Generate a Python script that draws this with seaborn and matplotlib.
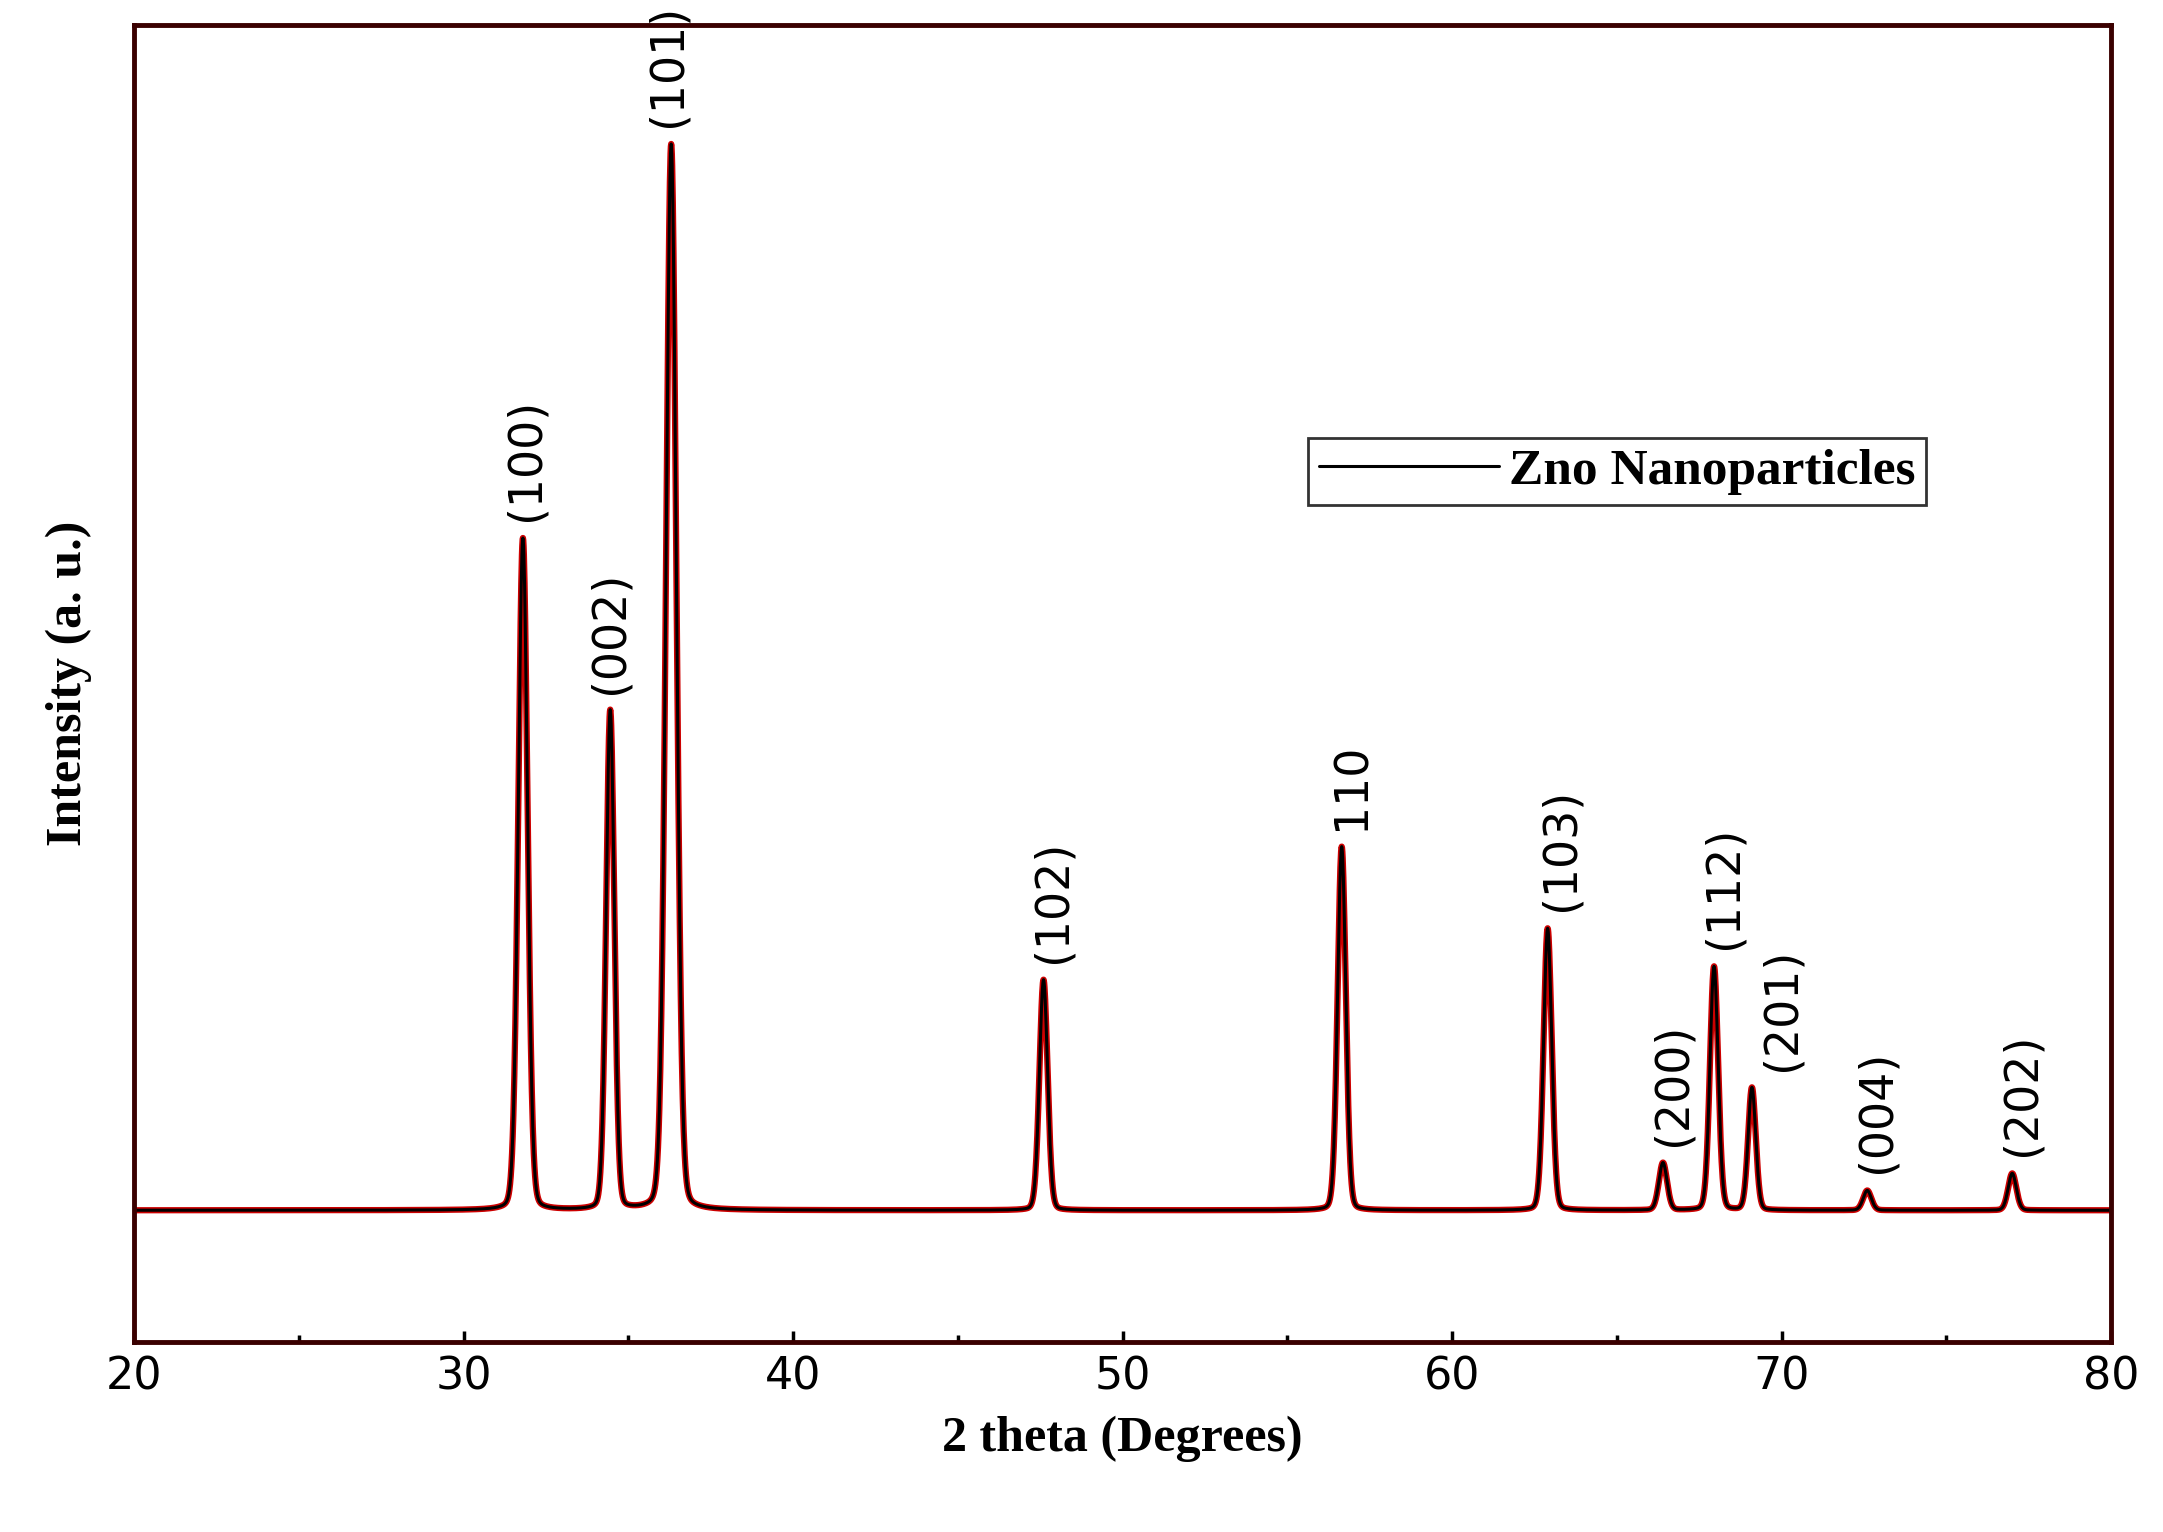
import numpy as np
import matplotlib
matplotlib.use("Agg")
import matplotlib.pyplot as plt
import seaborn as sns
from matplotlib.ticker import MultipleLocator

sns.set_style("ticks")
plt.rcParams['font.family'] = ['DejaVu Sans']
plt.rcParams['text.color'] = 'black'
plt.rcParams['xtick.color'] = 'black'
plt.rcParams['axes.labelcolor'] = 'black'

peak_pos = [31.8, 34.45, 36.3, 47.6, 56.65, 62.9, 66.4, 67.95, 69.1, 72.6, 77.0]
peak_height = [51.0, 37.9, 80.9, 17.5, 27.6, 21.4, 3.6, 18.5, 9.3, 1.5, 2.8]
peak_labels = ["(100)", "(002)", "(101)", "(102)", "110", "(103)", "(200)", "(112)", "(201)", "(004)", "(202)"]
label_dx = [0.1, 0.0, -0.1, 0.3, 0.3, 0.4, 0.3, 0.3, 0.9, 0.3, 0.3]
baseline = 10.0
widths = [0.17, 0.15, 0.19, 0.15, 0.15, 0.15, 0.15, 0.15, 0.14, 0.15, 0.15]

x = np.linspace(20, 80, 6001)
y = np.full_like(x, baseline)
for p, h, w in zip(peak_pos, peak_height, widths):
    lor = 1 / (1 + ((x - p) / (w * 0.8)) ** 2)
    gau = np.exp(-np.log(2) * ((x - p) / w) ** 2)
    y += h * (0.15 * lor + 0.85 * gau)

fig = plt.figure(figsize=(21.63, 15.32), dpi=100)
ax = fig.add_axes([0.062, 0.124, 0.914, 0.86])
sns.lineplot(x=x, y=y, ax=ax, color="#cc0000", linewidth=4.5, legend=False)
sns.lineplot(x=x, y=y, ax=ax, color="black", linewidth=2.2, label="Zno Nanoparticles")

for p, h, lab, dx in zip(peak_pos, peak_height, peak_labels, label_dx):
    ax.text(p + dx, baseline + h + 1.3, lab, rotation=90, ha="center", va="bottom", fontsize=33)

ax.set_xlim(20, 80)
ax.set_ylim(0, 100)
ax.set_yticks([])
ax.xaxis.set_major_locator(MultipleLocator(10))
ax.xaxis.set_minor_locator(MultipleLocator(5))
ax.tick_params(axis="x", which="major", direction="in", length=8, width=2.5, labelsize=32, pad=10)
ax.tick_params(axis="x", which="minor", direction="in", length=5, width=2.5)
for s in ax.spines.values():
    s.set_linewidth(3.5)
    s.set_color("#3a0000")

serif = ['Liberation Serif', 'DejaVu Serif']
ax.set_xlabel("2 theta (Degrees)", fontsize=36, fontweight="bold", family=serif, labelpad=12)
ax.set_ylabel("Intensity (a. u.)", fontsize=36, fontweight="bold", family=serif, labelpad=30)

leg = ax.legend(loc="upper left", bbox_to_anchor=(0.581, 0.706), frameon=True, fancybox=False,
                prop={'family': serif, 'weight': 'bold', 'size': 37}, handlelength=3.5,
                borderpad=0.2, handletextpad=0.2)
leg.get_frame().set_edgecolor("black")
leg.get_frame().set_linewidth(2)

fig.savefig("out.png", dpi=100)
